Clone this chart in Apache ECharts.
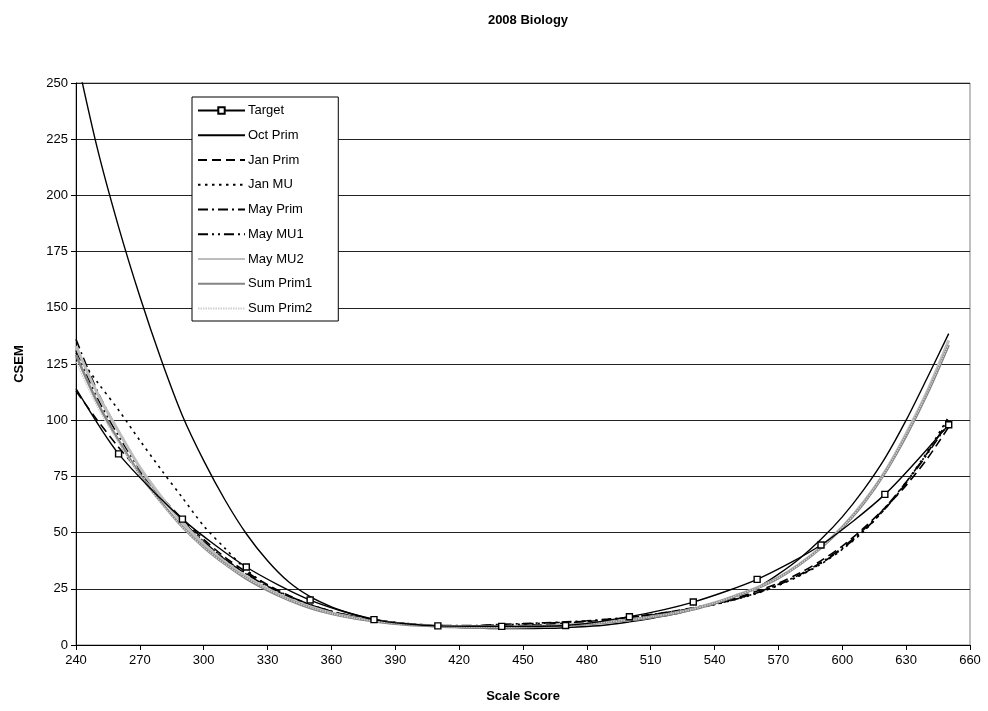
<!DOCTYPE html>
<html>
<head>
<meta charset="utf-8">
<script src="https://cdn.jsdelivr.net/npm/echarts@6/dist/echarts.min.js"></script>
<style>html,body{margin:0;padding:0;background:#fff}#c{width:988px;height:711px}</style>
</head>
<body>
<div id="c"></div>
<script>
// x positions (Scale Score) for the fitted curves
const xs = [240,250,260,270,280,290,300,310,320,330,340,350,360,370,380,390,400,410,420,430,440,450,460,470,480,490,500,510,520,530,540,550,560,570,580,590,600,610,620,630,640,650];
// Target points
const targetX = [240,260,290,320,350,380,410,440,470,500,530,560,590,620,650];
const targetY = [114,85,56,34.7,20,11.3,8.5,8.3,8.7,12.6,19.1,29.2,44.5,67,98];

const octPrim = [263,221,186,155,127,102,82,64.5,49.5,37.5,28,21.5,17,13.8,11.5,10,9,8.3,7.8,7.5,7.3,7.3,7.4,7.7,8.2,9,10.3,11.8,13.5,15.8,18.5,21.8,25.5,31.5,38.5,47,57,69,83,100,119,138.5];
const janPrim = [113,100,88,77,66,56,47,39,32.5,26.8,22,18,15,12.8,11.2,10,9.2,8.7,8.4,8.3,8.4,8.7,9.1,9.7,10.4,11.3,12.3,13.5,14.9,16.6,18.6,21,24,27.5,32,37.5,44,52,61,71,83,97];
const janMU = [130,117,104.5,91,78,65.5,53,43,33.5,26.4,21.2,17.5,14.6,12.5,11,9.9,9.1,8.6,8.3,8.2,8.3,8.6,9.1,9.7,10.4,11.2,12.1,13.2,14.5,16.1,18,20.3,23,26.5,30.8,36,42.5,50.5,60.5,72.5,86,101.5];
const mayPrim = [136,113,95,79,66,55,46,38,31.5,26,21.5,17.8,14.8,12.6,11,9.9,9.1,8.7,8.6,8.7,9.2,9.5,9.9,10.3,10.8,11.5,12.4,13.5,14.8,16.4,18.3,20.6,23.4,27,31.3,36.7,43.3,51.3,61,72.5,85.5,100];
const mayMU1 = [131,110,93,78,65.5,55,46,38.2,31.8,26.3,21.8,18,15,12.8,11.1,10,9.2,8.7,8.5,8.6,9,9.3,9.7,10.1,10.6,11.3,12.2,13.3,14.6,16.2,18.1,20.4,23.2,26.7,31,36.3,42.8,50.8,60.5,72,85,99];
const mayMU2 = [133,112,95,79,66,54.5,45,37,30.5,25,20.5,17,14.2,12.2,10.7,9.6,8.9,8.4,8.1,8,8,8.1,8.4,8.8,9.4,10.2,11.2,12.5,14,16,18.8,22,25.5,30,36,43.5,52.5,63.5,77,94,113,135.5];
const sumPrim1 = [129,108,91,76,63.5,52.5,43.5,36,29.5,24.3,20,16.5,13.9,12,10.6,9.5,8.8,8.3,8,7.9,7.9,8,8.3,8.7,9.3,10.1,11.1,12.4,13.9,15.9,18.6,21.8,25.3,29.8,35.8,43.2,52.2,63,76.5,93,112,133.5];
const sumPrim2 = [126,106,90,75.5,63,52.5,43.5,36,29.8,24.6,20.2,16.7,14,12.1,10.7,9.6,8.9,8.4,8.1,8,8,8.1,8.4,8.8,9.4,10.2,11.2,12.5,14,16,18.7,21.9,25.4,29.9,35.9,43.3,52.3,63.2,76.7,93.5,112.5,134];

const yTicks = {min:0, max:250, step:25};
const xTicks = {min:240, max:660, step:30};

function pairs(xArr, yArr){ return xArr.map((x,i)=>[x, yArr[i]]); }

const FONT = 'Liberation Sans';
const chart = echarts.init(document.getElementById('c'), null, {renderer:'canvas'});

const targetData = pairs(targetX, targetY).map((p,i)=> i===0 ? {value:p, symbol:'none'} : p);

function curve(name, arr, color, width, type){
  return {
    name, type:'line', data:pairs(xs, arr), smooth:0.3, symbol:'none', showSymbol:false,
    lineStyle:{color, width, type},
    itemStyle:{color:'rgba(0,0,0,0)', borderWidth:0, borderColor:'rgba(0,0,0,0)'}, z:2
  };
}

const option = {
  animation:false,
  backgroundColor:'#ffffff',
  title:{
    text:'2008 Biology', left:523, top:9, textAlign:'center',
    textStyle:{fontFamily:FONT, fontSize:13, fontWeight:'bold', color:'#000'}
  },
  legend:{
    orient:'vertical', left:192, top:97,
    itemWidth:47, itemHeight:8, itemGap:11.75,
    padding:[7,26,6,5],
    backgroundColor:'#ffffff', borderColor:'#000', borderWidth:1,
    textStyle:{fontFamily:FONT, fontSize:13, color:'#000', padding:[0,0,0,-2]},
    data:['Target','Oct Prim','Jan Prim','Jan MU','May Prim','May MU1','May MU2','Sum Prim1','Sum Prim2']
  },
  grid:{left:76, right:18, top:83, bottom:66, show:true, borderColor:'#808080', borderWidth:1, backgroundColor:'#fff'},
  xAxis:{
    type:'value', min:xTicks.min, max:xTicks.max, interval:xTicks.step,
    name:'Scale Score', nameLocation:'middle', nameGap:45,
    nameTextStyle:{fontFamily:FONT, fontSize:13, fontWeight:'bold', color:'#000'},
    axisLine:{show:true, lineStyle:{color:'#000', width:1}},
    axisTick:{show:true, length:5, inside:false, lineStyle:{color:'#000'}},
    axisLabel:{fontFamily:FONT, fontSize:13, color:'#000', margin:9},
    splitLine:{show:false}
  },
  yAxis:{
    type:'value', min:yTicks.min, max:yTicks.max, interval:yTicks.step,
    name:'CSEM', nameLocation:'middle', nameGap:50, nameRotate:90,
    nameTextStyle:{fontFamily:FONT, fontSize:13, fontWeight:'bold', color:'#000'},
    axisLine:{show:true, lineStyle:{color:'#000', width:1}},
    axisTick:{show:true, length:5, lineStyle:{color:'#000'}},
    axisLabel:{fontFamily:FONT, fontSize:13, color:'#000', margin:8},
    splitLine:{show:true, lineStyle:{color:'#222', width:1}}
  },
  series:[
    {
      name:'Target', type:'line', data:targetData, smooth:0.25,
      symbol:'rect', symbolSize:6, showSymbol:true,
      lineStyle:{color:'#000', width:1.4},
      itemStyle:{color:'#ffffff', borderColor:'#000', borderWidth:1.4}, z:5
    },
    curve('Oct Prim', octPrim, '#000', 1.4, 'solid'),
    curve('Jan Prim', janPrim, '#000', 1.6, [9,5]),
    curve('Jan MU', janMU, '#000', 1.6, [2.5,4.5]),
    curve('May Prim', mayPrim, '#000', 1.6, [10,4,2,4]),
    curve('May MU1', mayMU1, '#000', 1.6, [10,4,2,4,2,4]),
    curve('May MU2', mayMU2, '#bdbdbd', 3, 'solid'),
    curve('Sum Prim1', sumPrim1, '#858585', 2.6, 'solid'),
    curve('Sum Prim2', sumPrim2, '#cfcfcf', 1.4, [1.5,1])
  ]
};
chart.setOption(option);
</script>
</body>
</html>
